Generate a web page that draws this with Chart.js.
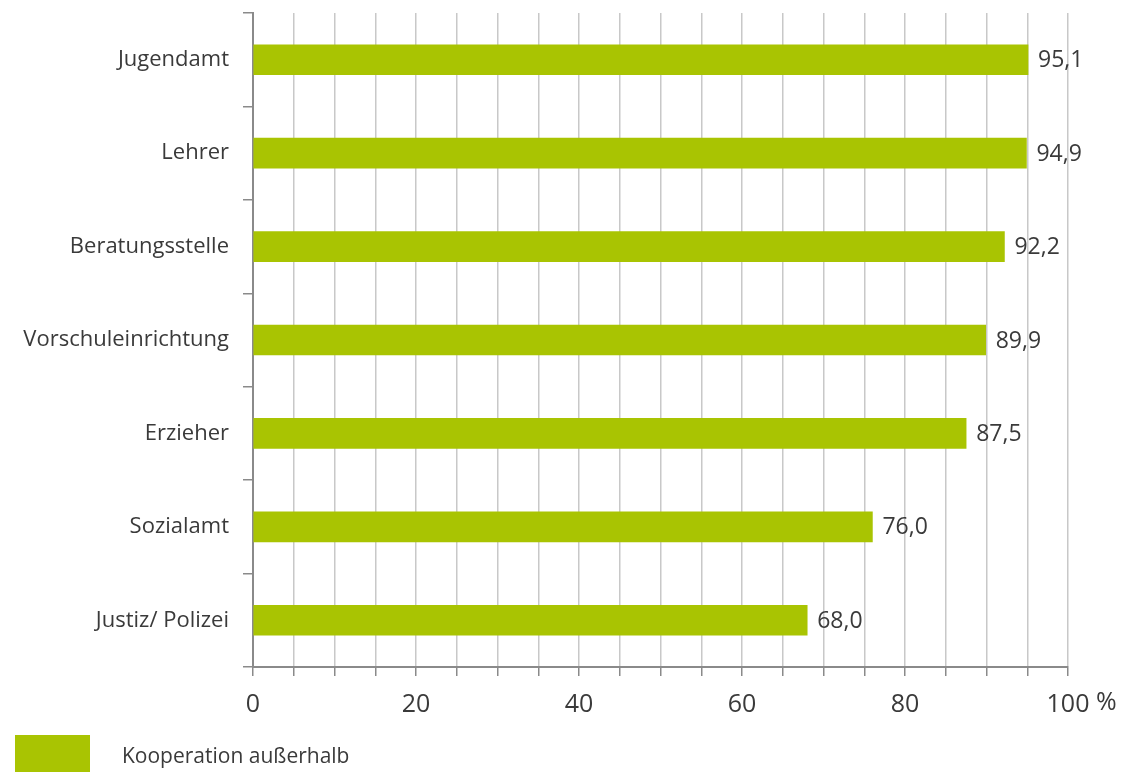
<!DOCTYPE html>
<html>
<head>
<meta charset="utf-8">
<script src="https://cdn.jsdelivr.net/npm/chart.js"></script>
<style>
  body { margin: 0; background: #fff; }
  #wrap { width: 1125px; height: 772px; position: relative; }
</style>
</head>
<body>
<div id="wrap"><canvas id="chart"></canvas></div>
<script>
// Data
const categories = ['Jugendamt', 'Lehrer', 'Beratungsstelle', 'Vorschuleinrichtung', 'Erzieher', 'Sozialamt', 'Justiz/ Polizei'];
const values = [95.1, 94.9, 92.2, 89.9, 87.5, 76.0, 68.0];
const seriesLabel = 'Kooperation außerhalb';
const xTickLabels = [0, 20, 40, 60, 80, 100];

const green = '#a9c402';
const textColor = '#3a3a3a';
const fontFamily = '"Open Sans", sans-serif';
const tickSize = 25;
const tickPad = 14;
const tickLen = 9;

// value labels, legend and the "%" after 100
const extras = {
  id: 'extras',
  afterDatasetsDraw(chart) {
    const ctx = chart.ctx;
    const meta = chart.getDatasetMeta(0);
    ctx.save();
    ctx.font = '23px ' + fontFamily;
    ctx.fillStyle = textColor;
    ctx.textAlign = 'left';
    ctx.textBaseline = 'middle';
    meta.data.forEach((bar, i) => {
      ctx.fillText(values[i].toFixed(1).replace('.', ','), bar.x + 10, bar.y + 1);
    });
    ctx.restore();
  },
  afterDraw(chart) {
    const ctx = chart.ctx;
    const x = chart.scales.x;
    ctx.save();
    // percent sign next to 100
    ctx.font = tickSize + 'px ' + fontFamily;
    ctx.fillStyle = textColor;
    ctx.textBaseline = 'top';
    ctx.textAlign = 'left';
    const w100 = ctx.measureText('100').width;
    ctx.fillText(' %', x.getPixelForValue(100) + w100 / 2, x.top + tickLen + tickPad);
    // legend
    ctx.fillStyle = green;
    ctx.fillRect(15, 735, 75, 40);
    ctx.font = '21px ' + fontFamily;
    ctx.fillStyle = textColor;
    ctx.textBaseline = 'middle';
    ctx.fillText(chart.data.datasets[0].label, 122, 757);
    ctx.restore();
  }
};

new Chart(document.getElementById('chart'), {
  type: 'bar',
  data: {
    labels: categories,
    datasets: [{
      label: seriesLabel,
      data: values,
      backgroundColor: green,
      barThickness: 30
    }]
  },
  options: {
    indexAxis: 'y',
    responsive: true,
    maintainAspectRatio: false,
    animation: false,
    layout: { padding: { top: 13, right: 57, left: 0, bottom: 0 } },
    plugins: { legend: { display: false }, tooltip: { enabled: false } },
    scales: {
      x: {
        min: 0,
        max: 100,
        afterFit: s => { s.height = 105; },
        ticks: {
          stepSize: 5,
          autoSkip: false,
          maxRotation: 0,
          padding: tickPad,
          color: textColor,
          font: { family: fontFamily, size: tickSize },
          callback: v => xTickLabels.includes(v) ? String(v) : ''
        },
        grid: { color: '#c8c8c8', lineWidth: 1.5, tickColor: '#8a8a8a', tickLength: tickLen },
        border: { color: '#8a8a8a', width: 2 }
      },
      y: {
        afterFit: s => { s.width = 253; s.paddingTop = 0; s.paddingBottom = 0; },
        ticks: {
          padding: 14,
          color: textColor,
          font: { family: fontFamily, size: 22 }
        },
        grid: { offset: true, drawOnChartArea: false, color: '#8a8a8a', tickLength: 10, lineWidth: 1.5 },
        border: { color: '#8a8a8a', width: 2 }
      }
    }
  },
  plugins: [extras]
});
</script>
</body>
</html>
